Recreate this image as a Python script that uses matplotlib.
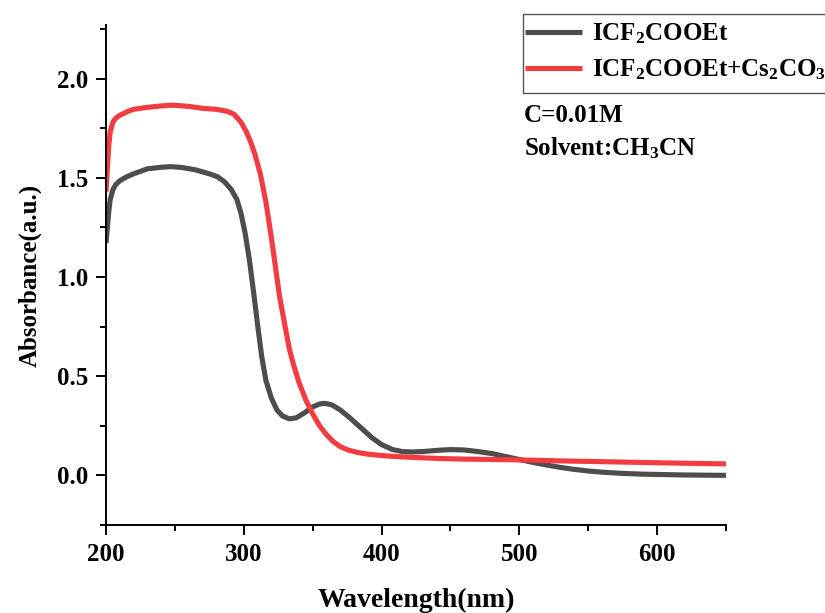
import numpy as np
import matplotlib
matplotlib.use('Agg')
import matplotlib.pyplot as plt
from matplotlib.ticker import MultipleLocator
from matplotlib.patches import Rectangle

plt.rcParams['font.family'] = ['Liberation Serif', 'DejaVu Serif']
plt.rcParams['font.weight'] = 'bold'
plt.rcParams['mathtext.fontset'] = 'custom'
plt.rcParams['mathtext.rm'] = 'Liberation Serif:bold'
plt.rcParams['mathtext.it'] = 'Liberation Serif:bold'
plt.rcParams['mathtext.bf'] = 'Liberation Serif:bold'

# spectra (wavelength nm, absorbance)
wl_black = [200, 201, 202, 203, 205, 207, 210, 215, 220, 230, 240, 247, 255, 265, 275, 281, 286,
            291, 295, 298, 301, 304, 307, 310, 313, 316, 320, 324, 328, 333, 338, 344, 350, 355,
            359, 364, 370, 377, 385, 393, 400, 408, 415, 422, 430, 440, 450, 460, 470, 480, 490,
            500, 510, 520, 530, 540, 550, 560, 575, 590, 605, 620, 635, 650]
ab_black = [1.17, 1.25, 1.33, 1.39, 1.44, 1.465, 1.485, 1.505, 1.52, 1.545, 1.553, 1.556, 1.552,
            1.54, 1.52, 1.505, 1.48, 1.44, 1.39, 1.32, 1.22, 1.09, 0.93, 0.76, 0.6, 0.48, 0.39,
            0.33, 0.3, 0.285, 0.29, 0.315, 0.345, 0.36, 0.363, 0.355, 0.33, 0.29, 0.24, 0.19, 0.155,
            0.13, 0.12, 0.118, 0.12, 0.126, 0.13, 0.128, 0.12, 0.11, 0.095, 0.08, 0.065, 0.052,
            0.04, 0.03, 0.022, 0.016, 0.01, 0.006, 0.004, 0.002, 0.001, 0.0]

wl_red = [200, 201, 202, 203, 205, 207, 210, 213, 216, 220, 230, 240, 248, 260, 270, 280, 288,
          293, 298, 302, 305, 308, 312, 316, 320, 323, 326, 330, 333, 336, 340, 345, 350, 355,
          360, 365, 370, 376, 383, 390, 400, 410, 425, 442, 460, 480, 500, 530, 560, 590, 620, 650]
ab_red = [1.43, 1.55, 1.66, 1.73, 1.78, 1.8, 1.815, 1.825, 1.835, 1.845, 1.855, 1.862, 1.866,
          1.86, 1.85, 1.845, 1.835, 1.82, 1.78, 1.73, 1.68, 1.62, 1.52, 1.38, 1.2, 1.05, 0.9,
          0.75, 0.64, 0.56, 0.47, 0.38, 0.31, 0.25, 0.205, 0.17, 0.145, 0.127, 0.115, 0.107,
          0.1, 0.095, 0.09, 0.085, 0.082, 0.08, 0.078, 0.073, 0.069, 0.065, 0.061, 0.058]

labels = [r'ICF$_2$COOEt', r'ICF$_2$COOEt+Cs$_2$CO$_3$']
colors = ['#4d4d4d', '#f23c41']

W, H = 825, 613
fig = plt.figure(figsize=(8.25, 6.13), dpi=100)
ax = fig.add_axes([0.1285, 0.1436, 0.7515, 0.8156])

ax.plot(wl_black, ab_black, color=colors[0], lw=3.7, label=labels[0], solid_capstyle='butt')
ax.plot(wl_red, ab_red, color=colors[1], lw=3.7, label=labels[1], solid_capstyle='butt')

ax.set_xlim(200, 650)
ax.set_ylim(-0.25, 2.27)
ax.xaxis.set_major_locator(MultipleLocator(100))
ax.xaxis.set_minor_locator(MultipleLocator(50))
ax.yaxis.set_major_locator(MultipleLocator(0.5))
ax.yaxis.set_minor_locator(MultipleLocator(0.25))
ax.yaxis.set_major_formatter(plt.FormatStrFormatter('%.1f'))

for s in ['top', 'right']:
    ax.spines[s].set_visible(False)
for s in ['left', 'bottom']:
    ax.spines[s].set_linewidth(1.4)
ax.tick_params(which='major', direction='out', length=7, width=1.4, labelsize=18, pad=6)
ax.tick_params(which='minor', direction='out', length=4, width=1.4)

ax.set_xlabel('Wavelength(nm)', fontsize=20, fontweight='bold', labelpad=16)
ax.set_ylabel('Absorbance(a.u.)', fontsize=18, fontweight='bold', labelpad=11)

# legend box runs past the right edge, as in the original
fig.add_artist(Rectangle((523 / W, 1 - 93 / H), 320 / W, 79 / H, transform=fig.transFigure,
                         fill=False, edgecolor='#555555', lw=1.0, clip_on=False))
leg = fig.legend(loc='upper left', bbox_to_anchor=(524.5 / W, 1 - 21.5 / H), fontsize=18,
                 frameon=False, handlelength=2.3, borderpad=0, labelspacing=0.46,
                 handletextpad=0.4, borderaxespad=0)

fig.text(524 / W, 1 - 116 / H, 'C=0.01M', fontsize=18, fontweight='bold', va='center')
fig.text(524 / W, 1 - 148 / H, r'Solvent:CH$_3$CN', fontsize=18, fontweight='bold', va='center')

fig.savefig('out.png', dpi=100)
